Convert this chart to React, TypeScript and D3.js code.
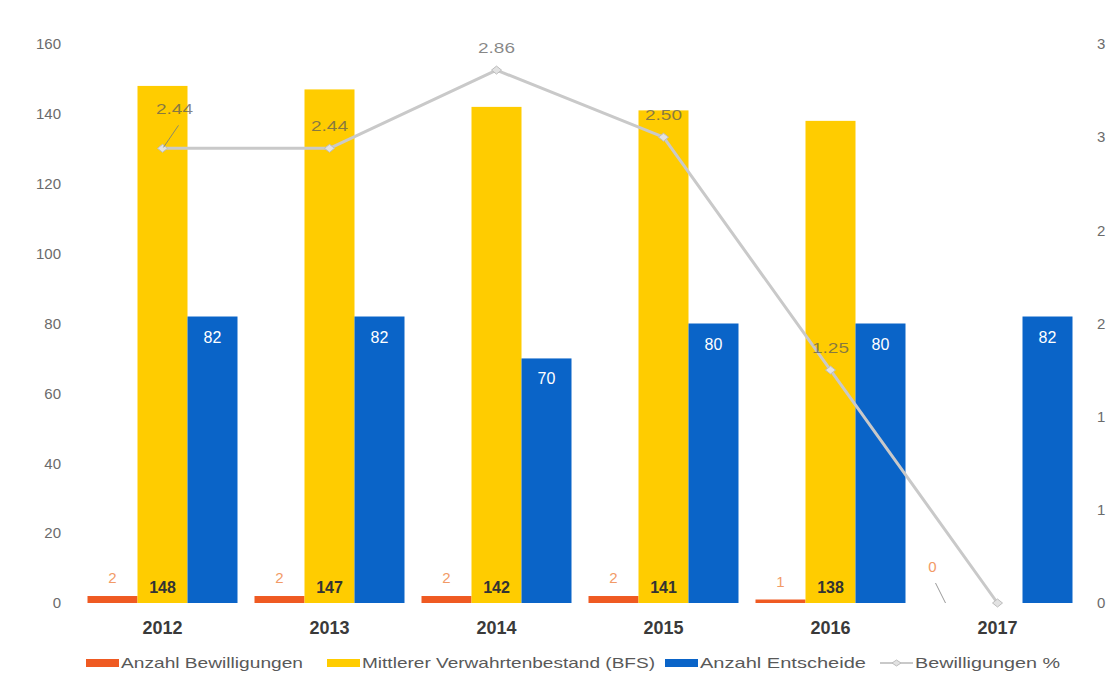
import React, { useEffect } from 'react';
import * as d3 from 'd3';

// Chart data
const years = ['2012', '2013', '2014', '2015', '2016', '2017'];
const bewilligungen = [2, 2, 2, 2, 1, 0];
const verwahrtenbestand: (number | null)[] = [148, 147, 142, 141, 138, null];
const entscheide = [82, 82, 70, 80, 80, 82];
const bewilligungenPct = [2.44, 2.44, 2.86, 2.5, 1.25, 0];

const leftTicks = [0, 20, 40, 60, 80, 100, 120, 140, 160];
const rightTicks = [0, 0.5, 1, 1.5, 2, 2.5, 3];

const seriesNames = ['Anzahl Bewilligungen', 'Mittlerer Verwahrtenbestand (BFS)', 'Anzahl Entscheide'];
const lineName = 'Bewilligungen %';

const COLORS = {
    orange: '#ef5a22',
    yellow: '#ffcc00',
    blue: '#0a64c8',
    line: '#c9c9c9',
};

const W = 1112;
const H = 687;
const margin = { top: 44, right: 31, bottom: 84, left: 79 };
const FONT = '"Liberation Sans", Arial, sans-serif';

const App = () => {
    useEffect(() => {
        document.body.style.margin = '0';
    }, []);

    const plotW = W - margin.left - margin.right;
    const plotH = H - margin.top - margin.bottom;
    const baseY = margin.top + plotH;

    const x0 = d3.scaleBand().domain(years).range([margin.left, margin.left + plotW]).padding(0);
    const x1 = d3.scaleBand().domain(seriesNames).range([0, x0.bandwidth()]).paddingInner(0).paddingOuter(0.17);
    const yL = d3.scaleLinear().domain([0, 160]).range([baseY, margin.top]);
    const yR = d3.scaleLinear().domain([0, 3]).range([baseY, margin.top]);
    const fmtR = d3.format('.0f');

    const cx = (yr: string) => (x0(yr) ?? 0) + x0.bandwidth() / 2;
    const bx = (yr: string, s: number) => (x0(yr) ?? 0) + (x1(seriesNames[s]) ?? 0);
    const bw = x1.bandwidth();

    const linePts: [number, number][] = years.map((yr, i) => [cx(yr), yR(bewilligungenPct[i])]);
    const linePath = d3.line()(linePts) ?? '';

    // legend layout (text widths follow the wide lettering of the original)
    const legendItems = [
        { label: seriesNames[0], color: COLORS.orange, x: 86, tw: 182, type: 'bar' },
        { label: seriesNames[1], color: COLORS.yellow, x: 327, tw: 293, type: 'bar' },
        { label: seriesNames[2], color: COLORS.blue, x: 665, tw: 166, type: 'bar' },
        { label: lineName, color: COLORS.line, x: 880, tw: 145, type: 'line' },
    ];

    return (
        <svg width={W} height={H} style={{ display: 'block', background: '#fff' }} fontFamily={FONT}>
            {/* left axis */}
            {leftTicks.map(t => (
                <text key={'l' + t} x={61} y={yL(t)} dy="0.35em" textAnchor="end" fontSize={15} fill="#6b6b6b">
                    {t}
                </text>
            ))}
            {/* right axis */}
            {rightTicks.map(t => (
                <text key={'r' + t} x={1097} y={yR(t)} dy="0.35em" textAnchor="start" fontSize={15} fill="#6b6b6b">
                    {fmtR(t)}
                </text>
            ))}

            {/* bars */}
            {years.map((yr, i) => (
                <g key={yr}>
                    <rect x={bx(yr, 0)} y={yL(bewilligungen[i])} width={bw} height={baseY - yL(bewilligungen[i])} fill={COLORS.orange} />
                    {verwahrtenbestand[i] != null && (
                        <rect x={bx(yr, 1)} y={yL(verwahrtenbestand[i] as number)} width={bw}
                            height={baseY - yL(verwahrtenbestand[i] as number)} fill={COLORS.yellow} />
                    )}
                    <rect x={bx(yr, 2)} y={yL(entscheide[i])} width={bw} height={baseY - yL(entscheide[i])} fill={COLORS.blue} />
                </g>
            ))}

            {/* line */}
            <path d={linePath} fill="none" stroke={COLORS.line} strokeWidth={3} strokeLinejoin="round" />
            {linePts.map(([px, py], i) => (
                <path key={'m' + i} d={`M${px - 5},${py} L${px},${py - 4} L${px + 5},${py} L${px},${py + 4} Z`}
                    fill="#e2e2e2" stroke="#bdbdbd" strokeWidth={1} />
            ))}

            {/* bar labels */}
            {years.map((yr, i) => {
                const ox = bx(yr, 0) + bw / 2;
                const oy = yL(bewilligungen[i]);
                const moved = bewilligungen[i] === 0;
                return (
                    <g key={'lb' + yr}>
                        {moved && <line x1={ox - 12} y1={baseY - 20} x2={ox - 2} y2={baseY} stroke="#9a9a9a" strokeWidth={1} />}
                        <text x={moved ? ox - 15 : ox} y={moved ? oy - 31 : oy - 13} textAnchor="middle" fontSize={15}
                            fill="#f29a66">{bewilligungen[i]}</text>
                        {verwahrtenbestand[i] != null && (
                            <text x={bx(yr, 1) + bw / 2} y={baseY - 10} textAnchor="middle" fontSize={16}
                                fontWeight="bold" fill="#333">{verwahrtenbestand[i]}</text>
                        )}
                        <text x={bx(yr, 2) + bw / 2} y={yL(entscheide[i]) + 26} textAnchor="middle" fontSize={16}
                            fill="#fff">{entscheide[i]}</text>
                    </g>
                );
            })}

            {/* line labels */}
            {linePts.map(([px, py], i) => {
                if (i === linePts.length - 1) return null;
                const shifted = i === 0;
                return (
                    <g key={'ll' + i}>
                        {shifted && <line x1={px + 16} y1={py - 23} x2={px + 1} y2={py - 1} stroke="#8a8a6a" strokeWidth={1} />}
                        <text x={shifted ? px + 12 : px} y={shifted ? py - 34 : py - 17} textAnchor="middle" fontSize={15}
                            textLength={37} lengthAdjust="spacingAndGlyphs"
                            fill="#595959" fillOpacity={0.72}>{bewilligungenPct[i].toFixed(2)}</text>
                    </g>
                );
            })}

            {/* x axis labels */}
            {years.map(yr => (
                <text key={'x' + yr} x={cx(yr)} y={634} textAnchor="middle" fontSize={18} fontWeight="bold" fill="#3a3a3a">
                    {yr}
                </text>
            ))}

            {/* legend */}
            {legendItems.map(it => (
                <g key={it.label}>
                    {it.type === 'bar' ? (
                        <rect x={it.x} y={659} width={33} height={8} fill={it.color} />
                    ) : (
                        <g>
                            <line x1={it.x} y1={663} x2={it.x + 33} y2={663} stroke={it.color} strokeWidth={2} />
                            <path d={`M${it.x + 12},663 L${it.x + 16.5},660 L${it.x + 21},663 L${it.x + 16.5},666 Z`}
                                fill="#e2e2e2" stroke="#bdbdbd" strokeWidth={1} />
                        </g>
                    )}
                    <text x={it.x + 35} y={663} dy="0.35em" fontSize={15} fill="#595959"
                        textLength={it.tw} lengthAdjust="spacingAndGlyphs">{it.label}</text>
                </g>
            ))}
        </svg>
    );
};

export default App;
